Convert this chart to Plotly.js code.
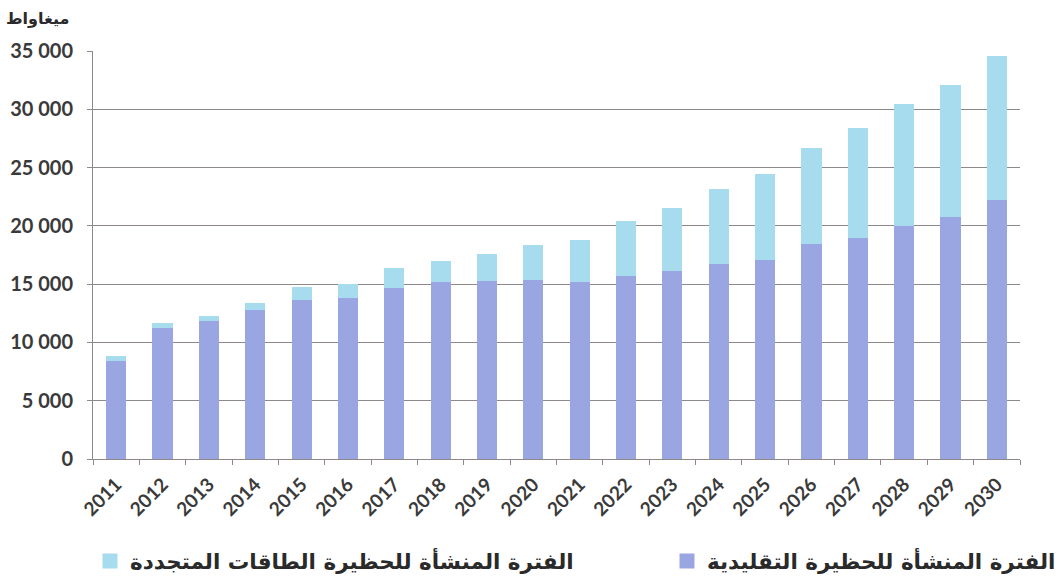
<!DOCTYPE html>
<html>
<head>
<meta charset="utf-8">
<script src="https://cdn.plot.ly/plotly-3.0.1.min.js"></script>
<style>html,body{margin:0;padding:0;background:#fff;}#chart{width:1061px;height:580px;}</style>
</head>
<body>
<div id="chart"></div>
<script>
// Categories (years)
const years = ['2011','2012','2013','2014','2015','2016','2017','2018','2019','2020',
               '2021','2022','2023','2024','2025','2026','2027','2028','2029','2030'];
// Installed capacity of the conventional fleet (MW)
const conventional = [8500, 11400, 11950, 12900, 13800, 13970, 14830, 15320, 15430, 15520,
                      15320, 15830, 16270, 16890, 17240, 18530, 19050, 20110, 20910, 22350];
// Installed capacity of the renewable fleet (MW)
const renewable = [200, 150, 200, 350, 800, 900, 1400, 1500, 2040, 2750,
                   3360, 4420, 5130, 6110, 7090, 8060, 9180, 10180, 11040, 12130];
// Series names
const nameConventional = 'الفترة المنشأة للحظيرة التقليدية';
const nameRenewable = 'الفترة المنشأة للحظيرة الطاقات المتجددة';
// Y tick values and labels
const yTickVals = [0, 5000, 10000, 15000, 20000, 25000, 30000, 35000];
const yTickText = ['0', '5 000', '10 000', '15 000', '20 000', '25 000', '30 000', '35 000'];
const yUnit = 'ميغاواط';

const darkColor = '#9aa6e2';
const lightColor = '#a7dcef';
const textColor = '#3a3a3a';
const gridColor = '#8f8888';

const data = [
  {
    type: 'bar', x: years, y: conventional, name: nameConventional,
    marker: {color: darkColor, line: {color: darkColor, width: 3}},
    hoverinfo: 'skip', legend: 'legend2'
  },
  {
    type: 'bar', x: years, y: renewable, name: nameRenewable,
    marker: {color: lightColor, line: {color: lightColor, width: 3}},
    hoverinfo: 'skip', legend: 'legend'
  }
];

const legendFont = {family: '"DejaVu Sans", sans-serif', size: 21.5, color: '#2a2a2a', weight: 'bold'};

const layout = {
  width: 1061, height: 580,
  paper_bgcolor: '#ffffff', plot_bgcolor: '#ffffff',
  margin: {l: 93, r: 41, t: 51, b: 121, autoexpand: false},
  barmode: 'stack',
  bargap: 0.63,
  font: {family: 'Lato, "DejaVu Sans", sans-serif', color: textColor, size: 19},
  xaxis: {
    type: 'category',
    tickson: 'boundaries',
    ticks: 'outside', ticklen: 5, tickcolor: gridColor, tickwidth: 1,
    showline: true, linecolor: gridColor, linewidth: 1,
    showgrid: false,
    tickangle: -45,
    ticklabelstandoff: 6,
    tickfont: {family: 'Lato, sans-serif', size: 19, color: textColor, weight: 'bold'}
  },
  yaxis: {
    range: [0, 35000],
    tickmode: 'array', tickvals: yTickVals, ticktext: yTickText,
    ticks: 'outside', ticklen: 5, tickcolor: gridColor, tickwidth: 1,
    showline: true, linecolor: gridColor, linewidth: 1,
    showgrid: true, gridcolor: gridColor, gridwidth: 1,
    zeroline: false,
    ticklabelstandoff: 10,
    tickfont: {family: 'Lato, sans-serif', size: 20, color: textColor, weight: 'bold'}
  },
  showlegend: true,
  legend: {
    orientation: 'h',
    x: (90 - 93) / 927, xanchor: 'left',
    y: -0.25, yanchor: 'middle',
    font: legendFont,
    bgcolor: 'rgba(0,0,0,0)'
  },
  legend2: {
    orientation: 'h',
    x: (1061 - 93) / 927, xanchor: 'right',
    y: -0.25, yanchor: 'middle',
    font: legendFont,
    bgcolor: 'rgba(0,0,0,0)'
  },
  annotations: [{
    text: yUnit, showarrow: false,
    xref: 'paper', yref: 'paper',
    x: -21/927, xanchor: 'right',
    y: 1 + 33/408, yanchor: 'middle',
    font: {family: '"DejaVu Sans", sans-serif', size: 16, color: '#2a2a2a', weight: 'bold'}
  }]
};

Plotly.newPlot('chart', data, layout, {staticPlot: true, displayModeBar: false});
</script>
</body>
</html>
